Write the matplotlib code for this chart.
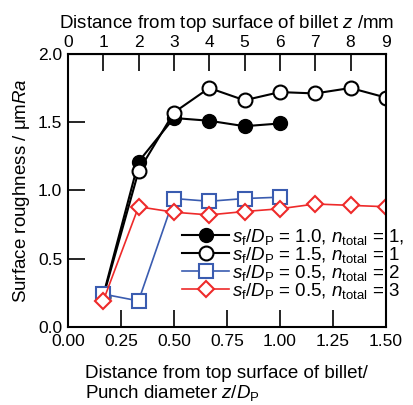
import matplotlib
matplotlib.use('Agg')
import matplotlib.pyplot as plt

plt.rcParams['font.family'] = ['Liberation Sans', 'DejaVu Sans']
plt.rcParams['mathtext.fontset'] = 'custom'
plt.rcParams['mathtext.rm'] = 'Liberation Sans'
plt.rcParams['mathtext.it'] = 'Liberation Sans:italic'
plt.rcParams['font.size'] = 12

# z/Dp positions (Dp = 6 mm)
z_short = [1/6, 2/6, 3/6, 4/6, 5/6, 6/6]
z_long = [1/6, 2/6, 3/6, 4/6, 5/6, 6/6, 7/6, 8/6, 9/6]

ra_sf10_n1 = [0.23, 1.21, 1.53, 1.51, 1.47, 1.49]
ra_sf15_n1 = [0.22, 1.14, 1.57, 1.75, 1.66, 1.72, 1.71, 1.75, 1.68]
ra_sf05_n2 = [0.24, 0.19, 0.94, 0.92, 0.94, 0.95]
ra_sf05_n3 = [0.19, 0.88, 0.84, 0.82, 0.845, 0.865, 0.90, 0.89, 0.88]

labels = [
    r'$s_\mathrm{f}/D_\mathrm{P}$ = 1.0, $n_\mathrm{total}$ = 1,',
    r'$s_\mathrm{f}/D_\mathrm{P}$ = 1.5, $n_\mathrm{total}$ = 1',
    r'$s_\mathrm{f}/D_\mathrm{P}$ = 0.5, $n_\mathrm{total}$ = 2',
    r'$s_\mathrm{f}/D_\mathrm{P}$ = 0.5, $n_\mathrm{total}$ = 3',
]

blue = '#3a5cb0'
red = '#ee2a2a'

fig = plt.figure(figsize=(4.14, 4.05), dpi=100)
ax = fig.add_axes([0.164, 0.193, 0.768, 0.674])

ax.plot(z_short, ra_sf10_n1, '-o', color='black', lw=1.5, ms=10,
        mfc='black', mec='black', label=labels[0])
ax.plot(z_long, ra_sf15_n1, '-o', color='black', lw=1.5, ms=10,
        mfc='white', mec='black', mew=1.5, label=labels[1])
ax.plot(z_short, ra_sf05_n2, '-s', color=blue, lw=1.2, ms=9.5,
        mfc='white', mec=blue, mew=1.5, label=labels[2])
ax.plot(z_long, ra_sf05_n3, '-D', color=red, lw=1.2, ms=8.5,
        mfc='white', mec=red, mew=1.5, label=labels[3])

ax.set_xlim(0, 1.5)
ax.set_ylim(0, 2.0)
ax.set_xticks([0, 0.25, 0.5, 0.75, 1.0, 1.25, 1.5])
ax.set_xticklabels(['0.00', '0.25', '0.50', '0.75', '1.00', '1.25', '1.50'])
ax.set_yticks([0, 0.5, 1.0, 1.5, 2.0])
ax.set_yticklabels(['0.0', '0.5', '1.0', '1.5', '2.0'])
ax.tick_params(direction='in', length=12, width=1.2, labelsize=12.5)
ax.tick_params(axis='x', pad=5)
ax.tick_params(axis='y', pad=4)
for s in ax.spines.values():
    s.set_linewidth(1.5)

ax.set_ylabel(r'Surface roughness / μm$\mathit{Ra}$', fontsize=13.5, labelpad=4)
ax.set_xlabel('Distance from top surface of billet/\nPunch diameter $\\mathit{z/D}_\\mathrm{P}$',
              fontsize=13.5, ha='left', x=0.053, linespacing=1.05, labelpad=12)

top = ax.secondary_xaxis('top', functions=(lambda x: x * 6, lambda x: x / 6))
top.set_xticks(range(0, 10))
top.tick_params(direction='in', length=12, width=1.2, pad=3, labelsize=12.5)
top.set_xlabel(r'Distance from top surface of billet $\mathit{z}$ /mm', fontsize=13.5, labelpad=5)

leg = ax.legend(loc='upper left', bbox_to_anchor=(0.36, 0.367), frameon=False,
                fontsize=13.5, handlelength=2.5, handletextpad=0.15,
                labelspacing=-0.1, borderaxespad=0, borderpad=0)

fig.savefig('out.png', dpi=100)
